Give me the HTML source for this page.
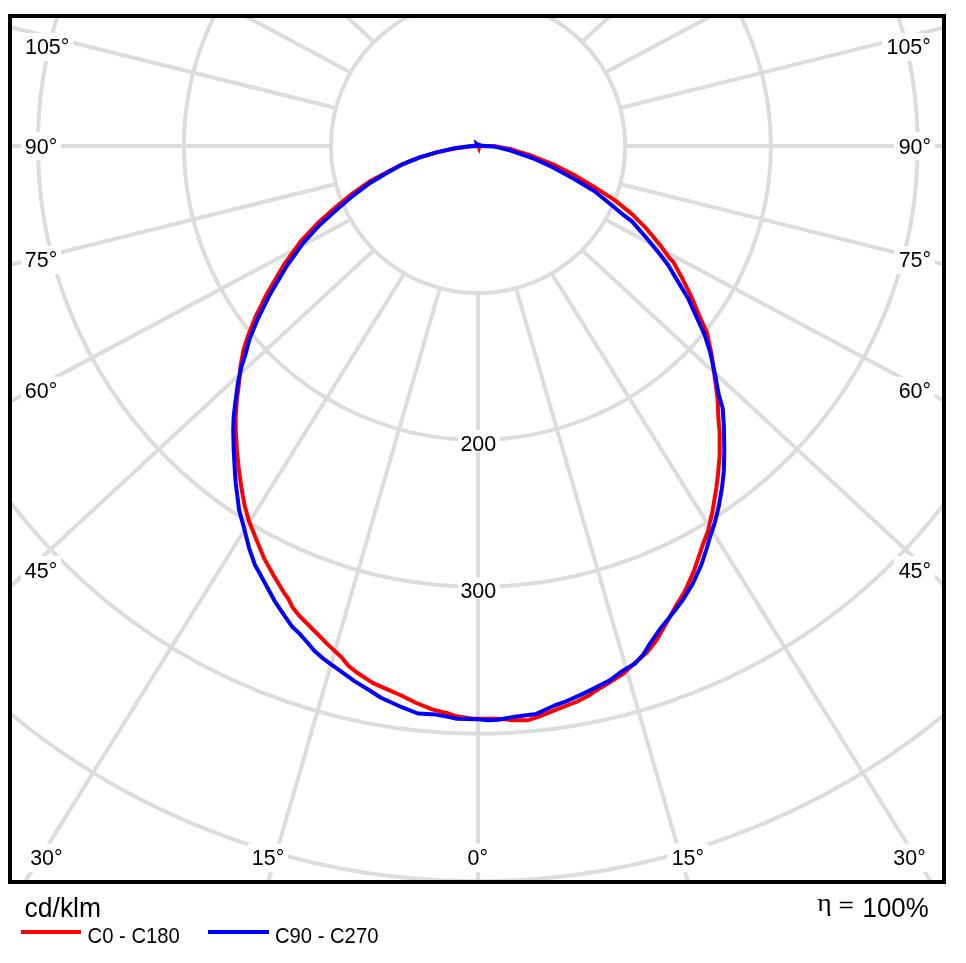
<!DOCTYPE html>
<html><head><meta charset="utf-8"><title>Polar diagram</title>
<style>
html,body{margin:0;padding:0;background:#fff;}
body{width:966px;height:963px;overflow:hidden;}
svg{display:block;}
text{font-family:"Liberation Sans",sans-serif;fill:#000;}
.tx{filter:grayscale(1);}
.g{fill:none;stroke:#dcdcdc;stroke-width:4;}
.lb{font-size:22px;text-anchor:middle;}
</style></head><body>
<svg width="966" height="963" viewBox="0 0 966 963">
<rect x="0" y="0" width="966" height="963" fill="#fff"/>
<defs><clipPath id="c"><rect x="10" y="16" width="934" height="866"/></clipPath></defs>
<g clip-path="url(#c)">
<ellipse class="g" cx="478.05" cy="146.0" rx="147.15" ry="147.15"/>
<ellipse class="g" cx="477.4" cy="146.0" rx="293.46" ry="293.9"/>
<ellipse class="g" cx="477.8" cy="146.0" rx="439.9" ry="440.85"/>
<ellipse class="g" cx="478.0" cy="146.0" rx="587.6" ry="587.7"/>
<ellipse class="g" cx="478.0" cy="146.0" rx="735.3" ry="735.3"/>
<line class="g" x1="478.00" y1="293.00" x2="478.00" y2="1693.00"/>
<line class="g" x1="516.05" y1="287.99" x2="907.38" y2="1640.29"/>
<line class="g" x1="551.50" y1="273.31" x2="1307.50" y2="1485.74"/>
<line class="g" x1="581.94" y1="249.94" x2="1651.09" y2="1239.89"/>
<line class="g" x1="605.31" y1="219.50" x2="1914.74" y2="919.50"/>
<line class="g" x1="619.99" y1="184.05" x2="2080.47" y2="546.39"/>
<line class="g" x1="625.00" y1="146.00" x2="2137.00" y2="146.00"/>
<line class="g" x1="619.99" y1="107.95" x2="2080.47" y2="-254.39"/>
<line class="g" x1="605.31" y1="72.50" x2="1914.74" y2="-627.50"/>
<line class="g" x1="581.94" y1="42.06" x2="1651.09" y2="-947.89"/>
<line class="g" x1="551.50" y1="18.69" x2="1307.50" y2="-1193.74"/>
<line class="g" x1="516.05" y1="4.01" x2="907.38" y2="-1348.29"/>
<line class="g" x1="478.00" y1="-1.00" x2="478.00" y2="-1401.00"/>
<line class="g" x1="439.95" y1="4.01" x2="48.62" y2="-1348.29"/>
<line class="g" x1="404.50" y1="18.69" x2="-351.50" y2="-1193.74"/>
<line class="g" x1="374.06" y1="42.06" x2="-695.09" y2="-947.89"/>
<line class="g" x1="350.69" y1="72.50" x2="-958.74" y2="-627.50"/>
<line class="g" x1="336.01" y1="107.95" x2="-1124.47" y2="-254.39"/>
<line class="g" x1="331.00" y1="146.00" x2="-1181.00" y2="146.00"/>
<line class="g" x1="336.01" y1="184.05" x2="-1124.47" y2="546.39"/>
<line class="g" x1="350.69" y1="219.50" x2="-958.74" y2="919.50"/>
<line class="g" x1="374.06" y1="249.94" x2="-695.09" y2="1239.89"/>
<line class="g" x1="404.50" y1="273.31" x2="-351.50" y2="1485.74"/>
<line class="g" x1="439.95" y1="287.99" x2="48.62" y2="1640.29"/>
<rect x="21.3" y="33.0" width="51.8" height="28.0" fill="#fff"/>
<rect x="882.0" y="33.0" width="52.6" height="28.0" fill="#fff"/>
<rect x="21.0" y="132.0" width="40.0" height="28.0" fill="#fff"/>
<rect x="894.1" y="132.0" width="40.8" height="28.0" fill="#fff"/>
<rect x="21.0" y="246.0" width="40.0" height="28.0" fill="#fff"/>
<rect x="894.1" y="246.0" width="40.8" height="28.0" fill="#fff"/>
<rect x="21.0" y="376.7" width="40.0" height="28.0" fill="#fff"/>
<rect x="894.1" y="376.7" width="40.8" height="28.0" fill="#fff"/>
<rect x="21.0" y="556.0" width="40.0" height="28.0" fill="#fff"/>
<rect x="894.1" y="556.0" width="40.8" height="28.0" fill="#fff"/>
<rect x="26.4" y="843.5" width="40.0" height="28.7" fill="#fff"/>
<rect x="888.7" y="843.5" width="40.8" height="28.7" fill="#fff"/>
<rect x="248.0" y="843.5" width="40.0" height="28.7" fill="#fff"/>
<rect x="667.1" y="843.5" width="40.8" height="28.7" fill="#fff"/>
<rect x="458.0" y="843.5" width="40.0" height="28.7" fill="#fff"/>
<rect x="458.0" y="430.0" width="42.0" height="22.0" fill="#fff"/>
<rect x="458.0" y="577.0" width="42.0" height="22.0" fill="#fff"/>
</g>
<polyline points="478.2,146.0 469.5,146.5 452.9,148.8 436.3,152.6 419.7,157.4 403.1,163.8 386.4,172.5 369.5,181.6 352.7,193.4 335.9,207.0 319.2,221.7 300.5,241.6 283.8,264.9 267.1,293.4 255.5,316.9 247.6,337.1 243.5,350.0 240.4,366.6 239.0,383.2 236.9,399.8 235.7,416.4 235.7,429.7 236.9,449.7 238.5,466.3 240.7,482.9 242.9,496.2 244.9,506.6 249.1,521.6 256.5,539.8 264.0,558.1 273.2,574.7 284.2,593.0 288.2,598.5 292.6,607.3 299.7,616.2 313.0,629.5 328.2,644.9 341.5,657.3 348.2,665.6 356.5,672.3 373.1,683.1 388.0,689.7 401.3,695.5 416.3,703.0 432.9,709.6 449.5,713.8 456.6,716.3 473.2,718.8 496.5,718.8 514.8,720.2 528.0,720.2 539.7,716.3 556.3,709.7 576.2,702.0 589.5,695.2 595.0,691.2 609.9,682.2 623.2,673.8 634.8,663.0 646.4,653.0 656.4,640.5 666.4,623.1 674.7,608.1 684.7,591.5 693.7,571.6 701.1,550.0 702.2,546.2 708.0,531.2 712.8,509.6 716.3,488.0 718.0,474.8 719.7,454.8 719.7,433.2 718.3,416.6 717.7,400.0 717.1,394.5 714.6,376.2 711.3,353.0 707.1,333.1 699.6,316.4 691.3,296.5 681.4,276.6 673.1,261.6 670.0,258.8 661.1,246.3 646.5,228.7 632.0,214.1 615.4,200.6 594.6,187.1 573.8,174.7 553.1,164.3 532.3,156.0 511.5,149.3 494.9,146.2 478.3,146.0" fill="none" stroke="#ff0000" stroke-width="4" stroke-linejoin="round"/>
<polyline points="478.2,145.8 469.5,146.3 452.9,148.6 436.3,152.4 419.7,157.4 403.1,164.1 386.4,173.2 369.8,183.2 353.2,195.6 336.6,209.7 320.0,224.7 303.1,243.2 286.4,266.5 269.8,294.7 258.2,318.0 249.9,337.9 244.9,356.2 241.5,366.6 237.9,383.2 235.7,399.8 233.7,416.4 233.2,429.7 233.7,449.7 234.6,466.3 235.7,482.9 237.4,496.2 239.1,509.9 244.1,528.2 249.1,548.1 254.9,564.8 264.9,583.0 274.8,601.3 284.8,616.2 292.3,626.8 299.5,633.6 306.5,641.5 314.0,650.4 322.0,657.6 330.0,663.6 338.5,669.6 354.8,681.4 369.8,690.5 381.4,698.0 399.7,706.3 417.9,713.5 436.2,714.6 449.5,717.1 456.6,718.8 478.2,719.2 488.2,720.2 498.1,719.7 514.8,716.7 536.3,713.9 554.6,705.5 566.2,701.4 582.9,693.9 595.0,687.9 609.9,680.4 623.2,670.4 634.8,663.8 643.1,654.7 649.8,643.9 661.4,627.2 673.0,613.1 683.0,599.8 693.0,583.2 701.3,565.0 706.2,550.0 709.7,537.9 714.7,522.9 718.8,506.3 722.2,486.4 723.8,471.4 724.3,449.8 723.8,424.9 722.7,408.3 718.7,394.5 715.4,376.2 710.4,353.0 704.6,334.7 696.3,316.4 688.0,298.2 678.0,281.6 668.1,265.0 661.1,255.7 646.5,238.0 632.0,221.4 623.7,215.2 611.2,204.8 594.6,191.3 573.8,178.8 553.1,167.4 532.3,158.0 511.5,150.8 494.9,146.6 478.3,145.6" fill="none" stroke="#0000ff" stroke-width="4" stroke-linejoin="round"/>
<path d="M476.6 147 L481.2 147 L479.4 154.2Z" fill="#ff0000"/>
<path d="M473.9 139.0 L477.5 142.3 L481.2 143.4 L481.2 148 L476.2 148 L474.6 144Z" fill="#0000ff"/>
<g class="tx">
<text class="lb" transform="translate(47.2,53.5) scale(0.975,1)">105°</text>
<text class="lb" transform="translate(908.7,53.5) scale(0.975,1)">105°</text>
<text class="lb" transform="translate(41.0,154.1) scale(0.975,1)">90°</text>
<text class="lb" transform="translate(914.9,154.1) scale(0.975,1)">90°</text>
<text class="lb" transform="translate(41.0,267.0) scale(0.975,1)">75°</text>
<text class="lb" transform="translate(914.9,267.0) scale(0.975,1)">75°</text>
<text class="lb" transform="translate(41.0,397.9) scale(0.975,1)">60°</text>
<text class="lb" transform="translate(914.9,397.9) scale(0.975,1)">60°</text>
<text class="lb" transform="translate(41.0,577.9) scale(0.975,1)">45°</text>
<text class="lb" transform="translate(914.9,577.9) scale(0.975,1)">45°</text>
<text class="lb" transform="translate(46.4,865.0) scale(0.975,1)">30°</text>
<text class="lb" transform="translate(909.5,865.0) scale(0.975,1)">30°</text>
<text class="lb" transform="translate(268.0,865.0) scale(0.975,1)">15°</text>
<text class="lb" transform="translate(687.9,865.0) scale(0.975,1)">15°</text>
<text class="lb" transform="translate(477.8,865.0) scale(0.975,1)">0°</text>
<text class="lb" transform="translate(478.3,450.8) scale(0.975,1)">200</text>
<text class="lb" transform="translate(478.3,597.9) scale(0.975,1)">300</text>
</g>
<rect x="10" y="16" width="934" height="866" fill="none" stroke="#000" stroke-width="4"/>
<g class="tx">
<text transform="translate(24.6,917.2) scale(0.98,1)" font-size="27">cd/klm</text>
<text transform="translate(87.6,942.6) scale(0.90,1)" font-size="22.5">C0 - C180</text>
<text transform="translate(274.9,942.6) scale(0.90,1)" font-size="22.5">C90 - C270</text>
<text transform="translate(817.2,910.8) scale(1.11,1)" font-size="25" style="font-family:'Liberation Serif',serif">η</text>
<text transform="translate(838.6,911.6) scale(1.32,1)" font-size="20">=</text>
<text transform="translate(862.6,917.2) scale(0.922,1)" font-size="28">100%</text>
</g>
<rect x="21" y="930" width="60" height="4" fill="#ff0000"/>
<rect x="208" y="930" width="61" height="4" fill="#0000ff"/>
</svg></body></html>
